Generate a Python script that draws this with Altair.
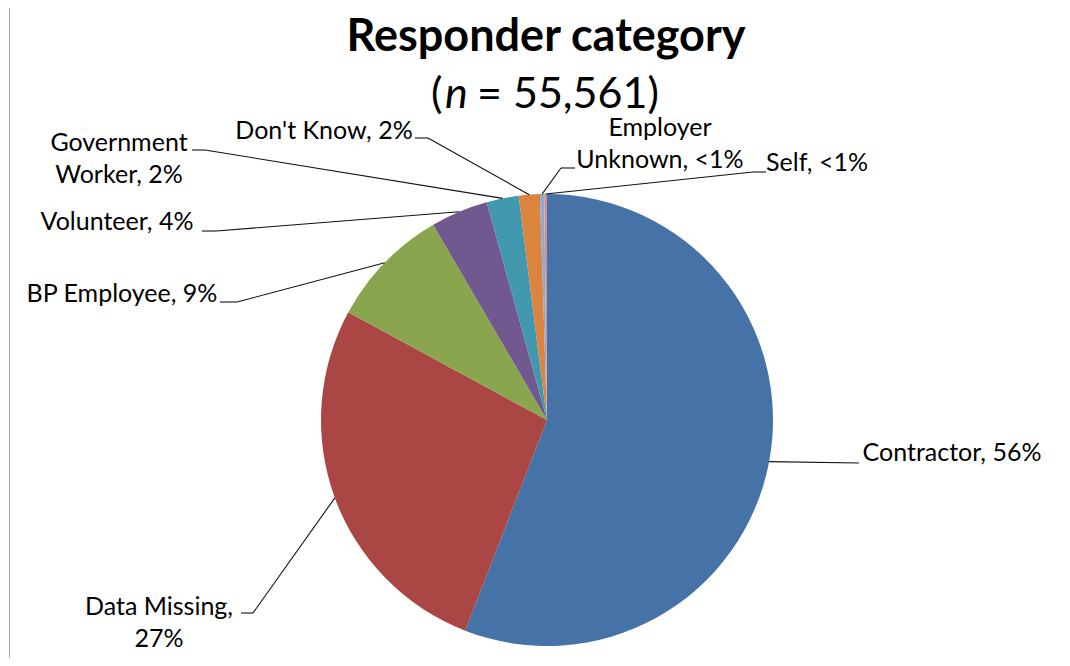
import altair as alt
import pandas as pd

# ---------------- data ----------------
categories = ["Contractor", "Data Missing", "BP Employee", "Volunteer",
              "Government Worker", "Don't Know", "Employer Unknown", "Self"]
shares = [55.9, 27.0, 8.7, 4.1, 2.3, 1.5, 0.3, 0.2]
label_texts = ["Contractor, 56%", "Data Missing,\n27%", "BP Employee, 9%", "Volunteer, 4%",
               "Government\nWorker, 2%", "Don't Know, 2%", "Employer\nUnknown, <1%", "Self, <1%"]
title_text = "Responder category"
sub_open = "("
sub_n = "n"
sub_rest = "= 55,561)"

# ---------------- styles ----------------
colors = ["#4572A7", "#AA4643", "#89A54E", "#71588F", "#4198AF", "#DB843D", "#93A9CF", "#D19392"]
FONT = "Lato"

# ---------------- layout (page pixels) ----------------
W, H = 1054, 650
CX, CY, R = 547, 420, 226
label_x = [952, 159, 122, 117, 119, 324, 660, 817]
label_y = [453, 607, 294, 222, 143, 131, 128, 163]   # centre of first line
elbow_x = [859, 253, 237, 216, 205, 428, 561, 753]
elbow_y = [463, 613, 302, 231, 150, 138, 168, 172]
end_x = [859, 241, 220, 202, 192, 415, 575, 766]

df = pd.DataFrame({
    "idx": list(range(len(categories))),
    "category": categories,
    "value": shares,
    "label": label_texts,
    "lx": label_x, "ly": label_y,
    "bx": elbow_x, "by": elbow_y, "tx": end_x,
})

xs = alt.Scale(domain=[8, 8 + W], nice=False, zero=False)
ys = alt.Scale(domain=[8 + H, 8], nice=False, zero=False)


def X(f):
    return alt.X(f, scale=xs, axis=None)


def Y(f):
    return alt.Y(f, scale=ys, axis=None)


def XD(v):
    return alt.XDatum(v, type="quantitative", scale=xs, axis=None)


def YD(v):
    return alt.YDatum(v, type="quantitative", scale=ys, axis=None)


base = alt.Chart(df)

pie = base.mark_arc(outerRadius=R, stroke=None).encode(
    theta=alt.Theta("value:Q", stack=True),
    order=alt.Order("idx:Q", sort="ascending"),
    color=alt.Color("category:N", scale=alt.Scale(domain=categories, range=colors), legend=None),
    x=XD(CX),
    y=YD(CY),
)

geo = base.transform_joinaggregate(total="sum(value)").transform_window(
    cum="sum(value)", sort=[alt.SortField("idx")], frame=[None, 0]
).transform_calculate(
    mid="(datum.cum - datum.value / 2) / datum.total * 2 * PI",
).transform_calculate(
    ex=f"{CX} + {R} * sin(datum.mid)",
    ey=f"{CY} - {R} * cos(datum.mid)",
)

LEAD = "#111111"
lead1 = geo.mark_rule(color=LEAD, strokeWidth=1.1).encode(
    x=X("ex:Q"), y=Y("ey:Q"), x2="bx:Q", y2="by:Q"
)
lead2 = base.mark_rule(color=LEAD, strokeWidth=1.1).encode(
    x=X("bx:Q"), y=Y("by:Q"), x2="tx:Q", y2="by:Q"
)

labels = base.mark_text(font=FONT, fontSize=25, lineBreak="\n", lineHeight=32,
                        align="center", baseline="middle", color="#000000").encode(
    x=X("lx:Q"), y=Y("ly:Q"), text="label:N"
)

one = pd.DataFrame({"t": [title_text], "a": [sub_open], "n": [sub_n], "r": [sub_rest]})
tb = alt.Chart(one)
title = tb.mark_text(font=FONT, fontSize=45, fontWeight="bold", align="center",
                     baseline="alphabetic", color="#000000").encode(
    x=XD(546), y=YD(51), text="t:N")
s1 = tb.mark_text(font=FONT, fontSize=43, align="left", baseline="alphabetic",
                  color="#000000").encode(x=XD(431), y=YD(108), text="a:N")
s2 = tb.mark_text(font=FONT, fontSize=43, fontStyle="italic", align="left",
                  baseline="alphabetic", color="#000000").encode(x=XD(445), y=YD(108), text="n:N")
s3 = tb.mark_text(font=FONT, fontSize=43, align="left", baseline="alphabetic",
                  color="#000000").encode(x=XD(477), y=YD(108), text="r:N")

border = tb.mark_rule(color="#A6A6A6", strokeWidth=1).encode(
    x=XD(9.5), y=YD(8), y2=alt.Y2Datum(8 + H))

chart = alt.layer(border, pie, lead1, lead2, labels, title, s1, s2, s3).properties(
    width=W, height=H, padding=0, autosize=alt.AutoSizeParams(type="none")
).configure(background="white", view=alt.ViewConfig(stroke=None))

chart.save("out.html", embed_options={"renderer": "svg", "actions": False})
